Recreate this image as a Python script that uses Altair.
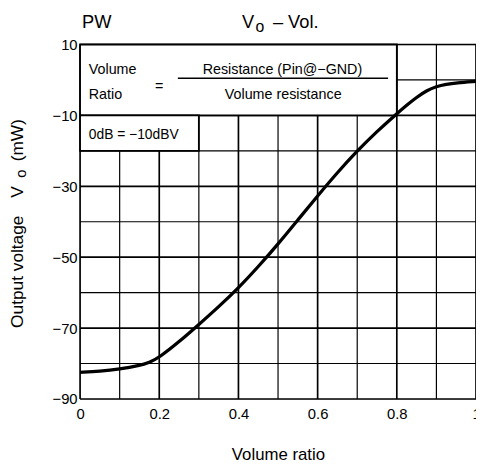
import altair as alt
import pandas as pd

# Curve data
vol_ratio = [0, 0.05, 0.1, 0.15, 0.175, 0.2, 0.25, 0.3, 0.35, 0.4, 0.45, 0.5,
             0.55, 0.6, 0.65, 0.7, 0.75, 0.8, 0.825, 0.85, 0.875, 0.9, 0.925,
             0.95, 1.0]
vo_db = [-82.5, -82.2, -81.6, -80.6, -79.7, -78.3, -73.9, -69.0, -64.0, -58.7,
         -52.7, -46.3, -39.5, -32.7, -26.1, -20.0, -14.5, -9.5, -7.1, -4.9,
         -3.0, -1.8, -1.2, -0.8, -0.4]

x_ticks = [0, 0.1, 0.2, 0.3, 0.4, 0.5, 0.6, 0.7, 0.8, 0.9, 1.0]
y_ticks = [10, 0, -10, -20, -30, -40, -50, -60, -70, -80, -90]
x_labeled = [0, 0.2, 0.4, 0.6, 0.8, 1.0]
y_labeled = [10, -10, -30, -50, -70, -90]

FONT = "Liberation Sans"

curve = pd.DataFrame({"x": vol_ratio, "y": vo_db})

xscale = alt.Scale(domain=[0, 1], nice=False, zero=False)
yscale = alt.Scale(domain=[-90, 10], nice=False, zero=False)

x_axis = alt.Axis(
    values=x_labeled, title=None, domain=False, ticks=False, grid=False,
    format="~g", labelFontSize=15, labelPadding=8, labelColor="#000",
    labelFont=FONT, labelFlush=False,
)
y_axis = alt.Axis(
    values=y_labeled, title=None, domain=False, ticks=False, grid=False,
    labelFontSize=15, labelPadding=3, labelColor="#000",
    labelFont=FONT, labelFlush=False,
)

# grid lines
gx = pd.DataFrame({"x": x_ticks, "major": [v in x_labeled for v in x_ticks]})
gy = pd.DataFrame({"y": y_ticks, "major": [v in y_labeled for v in y_ticks]})

grid_x = alt.Chart(gx).mark_rule(color="#000").encode(
    x=alt.X("x:Q", scale=xscale, axis=x_axis),
    strokeWidth=alt.condition("datum.major", alt.value(1.7), alt.value(1.2)),
)
grid_y = alt.Chart(gy).mark_rule(color="#000").encode(
    y=alt.Y("y:Q", scale=yscale, axis=y_axis),
    strokeWidth=alt.condition("datum.major", alt.value(1.7), alt.value(1.2)),
)

line = alt.Chart(curve).mark_line(
    color="#000", strokeWidth=3.3, interpolate="basis"
).encode(
    x=alt.X("x:Q", scale=xscale),
    y=alt.Y("y:Q", scale=yscale),
)

# Boxes
boxes = pd.DataFrame({
    "x": [0, 0], "x2": [0.8, 0.3], "y": [10, -10], "y2": [-10, -20]
})
box_layer = alt.Chart(boxes).mark_rect(
    fill="white", stroke="#000", strokeWidth=1.8
).encode(x=alt.X("x:Q", scale=xscale), x2="x2",
         y=alt.Y("y:Q", scale=yscale), y2="y2")

frac = pd.DataFrame({"x": [0.247], "x2": [0.778], "y": [0.5]})
frac_layer = alt.Chart(frac).mark_rule(color="#000", strokeWidth=1.5).encode(
    x=alt.X("x:Q", scale=xscale), x2="x2", y=alt.Y("y:Q", scale=yscale)
)

def text_layer(rows, **mark_kw):
    df = pd.DataFrame(rows, columns=["x", "y", "t"])
    kw = dict(font=FONT, color="#000")
    kw.update(mark_kw)
    return alt.Chart(df).mark_text(**kw).encode(
        x=alt.X("x:Q", scale=xscale), y=alt.Y("y:Q", scale=yscale), text="t:N")

legend_left = text_layer(
    [(0.022, 1.73, "Volume"), (0.022, -5.24, "Ratio")],
    align="left", baseline="alphabetic", fontSize=14.5,
)
legend_db = text_layer(
    [(0.022, -16.65, "0dB = \u221210dBV")],
    align="left", baseline="alphabetic", fontSize=14,
)
legend_center = text_layer(
    [(0.511, 1.73, "Resistance (Pin@\u2212GND)"), (0.513, -5.24, "Volume resistance")],
    align="center", baseline="alphabetic", fontSize=14.5,
)
eq = text_layer([(0.2, -2.1, "=")], align="center", baseline="middle", fontSize=14.5)

title_main = text_layer(
    [(0.005, 14.74, "PW"), (0.409, 14.74, "V"), (0.487, 14.74, "\u2013 Vol.")],
    align="left", baseline="alphabetic", fontSize=18.5,
)
title_sub = text_layer([(0.443, 13.5, "o")], align="left", baseline="alphabetic", fontSize=16)

ytitle_main = text_layer(
    [(-0.144, -54.1, "Output voltage"), (-0.144, -31.6, "V"), (-0.144, -17.0, "(mW)")],
    align="center", baseline="alphabetic", fontSize=17.5, angle=270,
)
ytitle_sub = text_layer([(-0.136, -26.4, "o")], align="center", baseline="alphabetic",
                        fontSize=15, angle=270)

xtitle = text_layer([(0.501, -107.3, "Volume ratio")], align="center",
                    baseline="alphabetic", fontSize=17)

chart = alt.layer(
    grid_x, grid_y, box_layer, frac_layer, line, legend_left, legend_db,
    legend_center, eq, title_main, title_sub, ytitle_main, ytitle_sub, xtitle,
).properties(
    width=401, height=359,
    autosize=alt.AutoSizeParams(type="none"),
    padding={"left": 73, "top": 34, "right": 0, "bottom": 72},
).configure_view(
    stroke="#000", strokeWidth=2.4
).configure(font=FONT, background="white")

chart.save("out.html", embed_options={"renderer": "svg", "actions": False})
